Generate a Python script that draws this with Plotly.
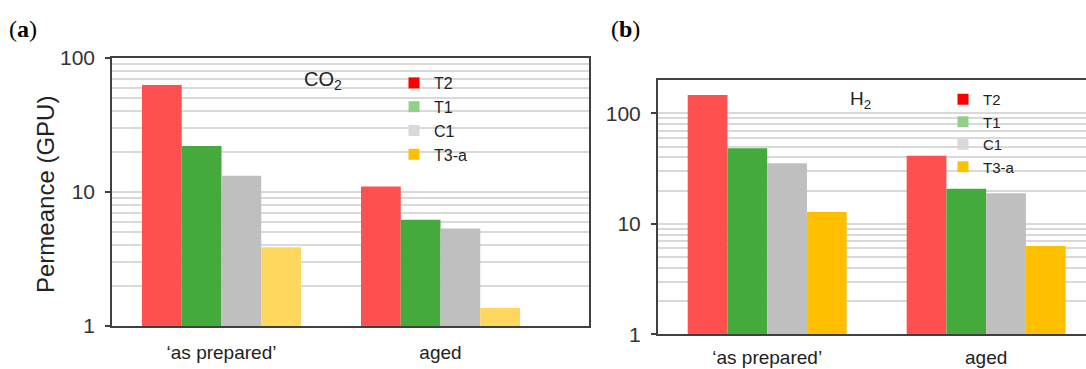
import plotly.graph_objects as go

categories = ["\u2018as prepared\u2019", "aged"]
series = ["T2", "T1", "C1", "T3-a"]

co2_T2 = [63, 11.0]
co2_T1 = [22, 6.2]
co2_C1 = [13.2, 5.35]
co2_T3a = [3.87, 1.36]

h2_T2 = [147, 41.3]
h2_T1 = [48.5, 20.8]
h2_C1 = [35.3, 18.9]
h2_T3a = [12.8, 6.3]

bar_colors_a = ["#FF5050", "#43AA3B", "#BFBFBF", "#FFD75E"]
bar_colors_b = ["#FF5050", "#43AA3B", "#BFBFBF", "#FFBF00"]
legend_colors = ["#FF0000", "#92D08A", "#D9D9D9", "#FFC000"]

major_ticks = [1, 10, 100]
minor_ticks = [2, 3, 4, 5, 6, 7, 8, 9, 20, 30, 40, 50, 60, 70, 80, 90, 200]

W, H = 1086, 369
def px_x(p):
    return p / W
def px_y(p):
    return 1 - p / H

fig = go.Figure()

data_a = [co2_T2, co2_T1, co2_C1, co2_T3a]
data_b = [h2_T2, h2_T1, h2_C1, h2_T3a]

for name, vals, col in zip(series, data_a, bar_colors_a):
    fig.add_trace(go.Bar(x=categories, y=vals, name=name, marker=dict(color=col, line=dict(width=0)),
                         xaxis="x", yaxis="y", showlegend=False))
for name, vals, col in zip(series, data_b, bar_colors_b):
    fig.add_trace(go.Bar(x=categories, y=vals, name=name, marker=dict(color=col, line=dict(width=0)),
                         xaxis="x2", yaxis="y2", showlegend=False))

for name, col in zip(series, legend_colors):
    fig.add_trace(go.Scatter(x=[None], y=[None], mode="markers", name=name,
                             marker=dict(symbol="square", size=11, color=col),
                             xaxis="x", yaxis="y", legend="legend"))
for name, col in zip(series, legend_colors):
    fig.add_trace(go.Scatter(x=[None], y=[None], mode="markers", name=name,
                             marker=dict(symbol="square", size=11, color=col),
                             xaxis="x2", yaxis="y2", legend="legend2"))

grid_col = "#D9D9D9"
axis_col = "#404040"
tick_font = dict(family="Liberation Sans, Arial, sans-serif", size=21, color="#333333")
cat_font = dict(family="Liberation Sans, Arial, sans-serif", size=19, color="#222222")

def yaxis_common(rng, domain, anchor, mirror):
    return dict(
        type="log", range=rng, domain=domain, anchor=anchor, automargin=False,
        tickmode="array", tickvals=major_ticks, ticktext=[str(v) for v in major_ticks],
        ticks="outside", ticklen=5, tickcolor=axis_col, tickwidth=1.5,
        showgrid=True, gridcolor=grid_col, gridwidth=1.5,
        minor=dict(tickmode="array", tickvals=minor_ticks, showgrid=True,
                   gridcolor=grid_col, gridwidth=1.5, ticks=""),
        showline=True, linecolor=axis_col, linewidth=1.5, mirror=mirror,
        tickfont=tick_font, ticklabelstandoff=6, zeroline=False,
    )

def xaxis_common(rng, domain, anchor, mirror, standoff):
    return dict(
        type="category", range=rng, domain=domain, anchor=anchor, automargin=False,
        showgrid=False, ticks="", showline=True, linecolor=axis_col, linewidth=1.5,
        mirror=mirror, tickfont=cat_font, ticklabelstandoff=standoff,
    )

fig.update_layout(
    width=W, height=H,
    margin=dict(l=0, r=0, t=0, b=0, autoexpand=False),
    paper_bgcolor="white", plot_bgcolor="white",
    barmode="group", bargap=0.274, bargroupgap=0,
    xaxis=xaxis_common([-0.5, 1.678], [px_x(112), px_x(589)], "y", True, 8),
    yaxis=yaxis_common([0, 2], [px_y(326), px_y(58)], "x", True),
    xaxis2=xaxis_common([-0.5, 1.456], [px_x(657.7), 1.0], "y2", True, 5),
    yaxis2=yaxis_common([0, 2.3], [px_y(334.3), px_y(80.3)], "x2", False),
    legend=dict(x=px_x(394), y=px_y(66), xanchor="left", yanchor="top",
                bgcolor="rgba(0,0,0,0)", borderwidth=0,
                font=dict(family="Liberation Sans, Arial, sans-serif", size=16, color="#222222")),
    legend2=dict(x=px_x(943), y=px_y(83), xanchor="left", yanchor="top",
                 bgcolor="rgba(0,0,0,0)", borderwidth=0,
                 font=dict(family="Liberation Sans, Arial, sans-serif", size=15, color="#222222")),
    shapes=[
        dict(type="rect", xref="paper", yref="paper", x0=px_x(404), x1=px_x(502),
             y0=px_y(165), y1=px_y(59), fillcolor="white", line=dict(width=0), layer="between"),
        dict(type="rect", xref="paper", yref="paper", x0=px_x(953), x1=px_x(1052),
             y0=px_y(178), y1=px_y(81.5), fillcolor="white", line=dict(width=0), layer="between"),
    ],
    annotations=[
        dict(text="(<b>a</b>)", x=px_x(7), y=px_y(29), xref="paper", yref="paper",
             xanchor="left", yanchor="middle", showarrow=False,
             font=dict(family="Liberation Serif, serif", size=24, color="black")),
        dict(text="(<b>b</b>)", x=px_x(609), y=px_y(29), xref="paper", yref="paper",
             xanchor="left", yanchor="middle", showarrow=False,
             font=dict(family="Liberation Serif, serif", size=24, color="black")),
        dict(text="Permeance (GPU)", x=px_x(45), y=px_y(195), xref="paper", yref="paper",
             xanchor="center", yanchor="middle", textangle=-90, showarrow=False,
             font=dict(family="Liberation Sans, Arial, sans-serif", size=24, color="#222222")),
        dict(text="CO<sub>2</sub>", x=px_x(323), y=px_y(80), xref="paper", yref="paper",
             xanchor="center", yanchor="middle", showarrow=False,
             font=dict(family="Liberation Sans, Arial, sans-serif", size=20, color="#222222")),
        dict(text="H<sub>2</sub>", x=px_x(860), y=px_y(100), xref="paper", yref="paper",
             xanchor="center", yanchor="middle", showarrow=False,
             font=dict(family="Liberation Sans, Arial, sans-serif", size=19, color="#222222")),
    ],
)

fig.write_html("out.html")
